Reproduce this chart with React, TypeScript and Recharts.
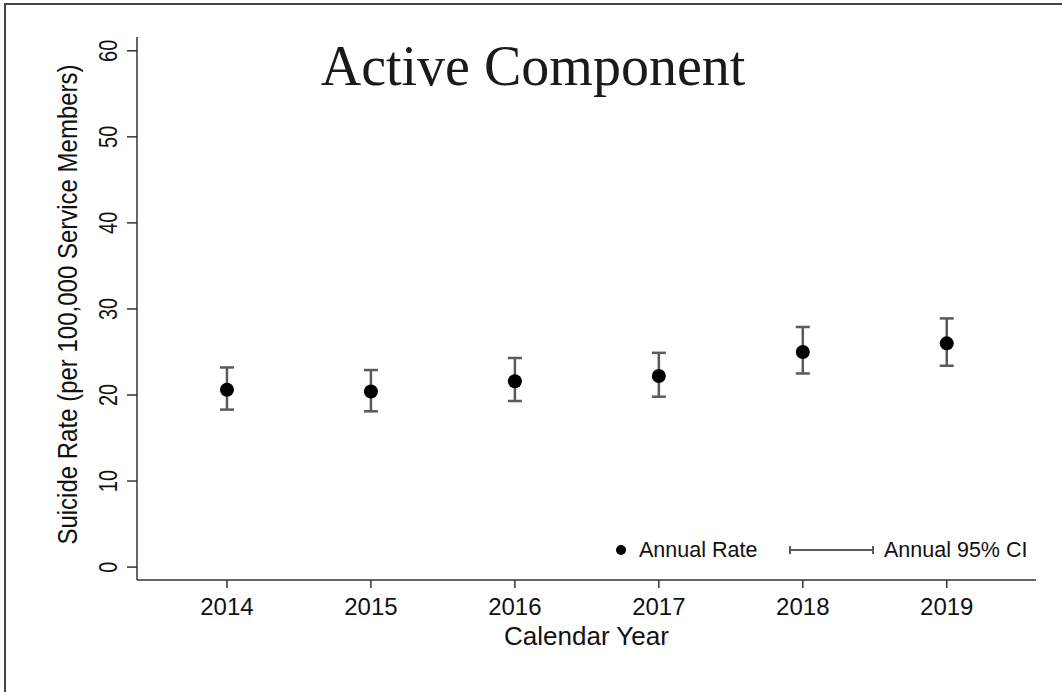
import React from 'react';
import { ComposedChart, Scatter, ErrorBar, XAxis, YAxis, Customized } from 'recharts';

const years = [2014, 2015, 2016, 2017, 2018, 2019];
const rates = [20.6, 20.4, 21.6, 22.2, 25.0, 26.0];
const ciLow = [18.3, 18.1, 19.3, 19.8, 22.5, 23.4];
const ciHigh = [23.2, 22.9, 24.3, 24.9, 27.9, 28.9];
const yTicks = [0, 10, 20, 30, 40, 50, 60];

const TITLE = 'Active Component';
const X_LABEL = 'Calendar Year';
const Y_LABEL = 'Suicide Rate (per 100,000 Service Members)';
const LEGEND_RATE = 'Annual Rate';
const LEGEND_CI = 'Annual 95% CI';

const data = years.map((year, i) => ({
  year,
  rate: rates[i],
  err: [rates[i] - ciLow[i], ciHigh[i] - rates[i]],
}));

const SANS = '"Liberation Sans", Arial, sans-serif';
const SERIF = '"Liberation Serif", "Times New Roman", serif';

const XTick = (props: any) => {
  const { x, y, payload } = props;
  return (
    <text x={x} y={y + 23} textAnchor="middle" fontFamily={SANS} fontSize={24} fill="#111">
      {payload.value}
    </text>
  );
};

const YTick = (props: any) => {
  const { x, y, payload } = props;
  return (
    <text
      transform={`translate(${x - 8},${y}) rotate(-90) scale(1,1.3)`}
      x={0}
      y={0}
      textAnchor="middle"
      fontFamily={SANS}
      fontSize={20}
      fill="#111"
    >
      {payload.value}
    </text>
  );
};

const Dot = (props: any) => <circle cx={props.cx} cy={props.cy} r={7} fill="#000" />;

const Overlay = () => (
  <g>
    <text x={533} y={85} textAnchor="middle" fontFamily={SERIF} fontSize={56} fill="#1a1a1a">
      {TITLE}
    </text>
    <circle cx={621} cy={550} r={5} fill="#000" />
    <text x={639} y={557} fontFamily={SANS} fontSize={21.5} fill="#111">
      {LEGEND_RATE}
    </text>
    <line x1={790} y1={550} x2={873} y2={550} stroke="#5a5a5a" strokeWidth={2} />
    <line x1={790} y1={546} x2={790} y2={554} stroke="#5a5a5a" strokeWidth={2} />
    <line x1={873} y1={546} x2={873} y2={554} stroke="#5a5a5a" strokeWidth={2} />
    <text x={884} y={557} fontFamily={SANS} fontSize={21.5} fill="#111">
      {LEGEND_CI}
    </text>
  </g>
);

export default function App() {
  return (
    <div style={{ position: 'absolute', left: 0, top: 0, width: 1062, height: 692, background: '#fff', overflow: 'hidden' }}>
      <div
        style={{
          position: 'absolute',
          left: 4,
          top: 3,
          width: 1100,
          height: 800,
          borderLeft: '2px solid #444',
          borderTop: '2px solid #444',
        }}
      />
      <div style={{ position: 'absolute', left: 0, top: 0 }}>
        <ComposedChart
          width={1062}
          height={692}
          data={data}
          margin={{ top: 37, right: 26, bottom: 52, left: 57 }}
        >
          <XAxis
            dataKey="year"
            type="number"
            domain={[2013.375, 2019.62]}
            ticks={years}
            allowDataOverflow
            tickSize={8}
            tickMargin={4}
            height={60}
            stroke="#333"
            strokeWidth={1.5}
            tickLine={{ stroke: '#333', strokeWidth: 1.5 }}
            tick={<XTick />}
            label={{
              content: (p: any) => (
                <text
                  x={p.viewBox.x + p.viewBox.width / 2}
                  y={p.viewBox.y + 65}
                  textAnchor="middle"
                  fontFamily={SANS}
                  fontSize={26}
                  fill="#111"
                >
                  {X_LABEL}
                </text>
              ),
            }}
          />
          <YAxis
            dataKey="rate"
            type="number"
            domain={[-1.5, 61.6]}
            ticks={yTicks}
            allowDataOverflow
            width={80}
            tickSize={10}
            tickMargin={2}
            stroke="#333"
            strokeWidth={1.5}
            tickLine={{ stroke: '#333', strokeWidth: 1.5 }}
            tick={<YTick />}
            label={{
              content: (p: any) => (
                <text
                  transform={`translate(${p.viewBox.x + 20},${p.viewBox.y + p.viewBox.height / 2 - 4}) rotate(-90) scale(1,1.15)`}
                  x={0}
                  y={0}
                  textAnchor="middle"
                  fontFamily={SANS}
                  fontSize={24}
                  fill="#111"
                >
                  {Y_LABEL}
                </text>
              ),
            }}
          />
          <Scatter dataKey="rate" shape={<Dot />} isAnimationActive={false}>
            <ErrorBar dataKey="err" direction="y" width={7} stroke="#5a5a5a" strokeWidth={2.5} />
          </Scatter>
          <Customized component={Overlay} />
        </ComposedChart>
      </div>
    </div>
  );
}
